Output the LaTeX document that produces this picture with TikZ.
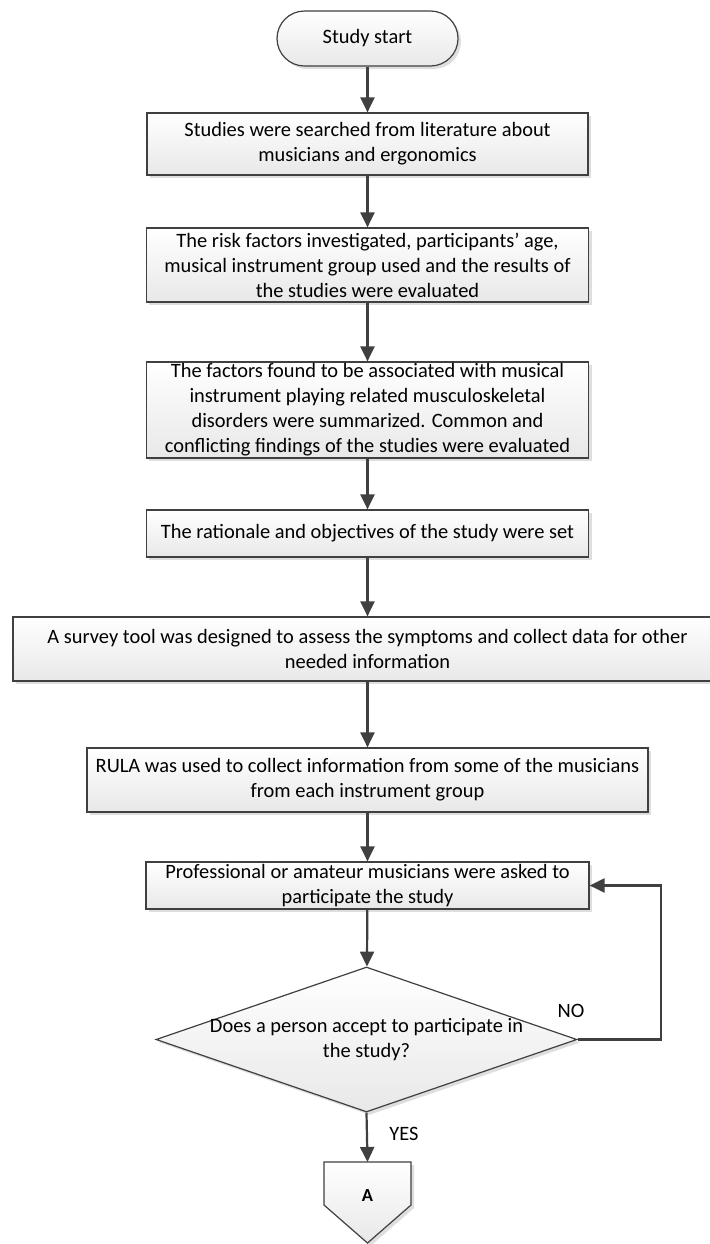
\documentclass[tikz,border=0pt]{standalone}
\usepackage{fontspec}
\setmainfont{Carlito}
\usepackage{tikz}
\usetikzlibrary{shapes.geometric,shadows,arrows.meta,calc}
\definecolor{linegray}{HTML}{404040}
\definecolor{boxgray}{HTML}{E8E8E8}

\begin{document}
\begin{tikzpicture}[x=1bp, y=-1bp, every node/.style={font=\fontsize{20.5}{25}\selectfont, align=center, inner sep=0pt}]
	\tikzset{fillshade/.style={draw=linegray, line width=1.2bp, top color=white, bottom color=boxgray, drop shadow={shadow xshift=3bp, shadow yshift=-3bp, fill=black!25, opacity=0.5}}}
	\tikzset{procbox/.style={rectangle, fillshade}}
	\tikzset{arr/.style={draw=linegray, line width=2.2bp, -{Triangle[length=15bp,width=14bp]}}}
	\useasboundingbox (0,0) rectangle (710,1244);
	\fill[white] (0,0) rectangle (710,1244);
	\clip (0,0) rectangle (710,1244);
	\node[procbox, rounded corners=27.5bp, minimum width=181bp, minimum height=55bp] (start) at (367.5,38.5) {Study start};
	\node[procbox, minimum width=441bp, minimum height=62bp] (s1) at (367.5,144) {Studies were searched from literature about\\musicians and ergonomics};
	\node[procbox, minimum width=442bp, minimum height=74bp] (s2) at (367.5,265) {The risk factors investigated, participants’ age,\\musical instrument group used and the results of\\the studies were evaluated};
	\node[procbox, minimum width=442bp, minimum height=96bp] (s3) at (367.5,410) {The factors found to be associated with musical\\instrument playing related musculoskeletal\\disorders were summarized. Common and\\conflicting findings of the studies were evaluated};
	\node[procbox, minimum width=442bp, minimum height=47bp] (s4) at (367.5,533.5) {The rationale and objectives of the study were set};
	\node[procbox, minimum width=709bp, minimum height=64bp] (s5) at (367.5,649) {A survey tool was designed to assess the symptoms and collect data for other\\needed information};
	\node[procbox, minimum width=561bp, minimum height=64bp] (s6) at (367.5,780) {RULA was used to collect information from some of the musicians\\from each instrument group};
	\node[procbox, minimum width=443bp, minimum height=47bp] (s7) at (367.5,885.5) {Professional or amateur musicians were asked to\\participate the study};
	\node[diamond, fillshade, minimum width=421bp, minimum height=145bp, label={[align=center]center:Does a person accept to participate in\\the study?}] (dec) at (366.5,1039.5) {};
	\coordinate (offc) at (367.5,1196);
	\coordinate (offtop) at ($(offc)+(0,-34)$);
	\path[fillshade] ($(offc)+(-43.5,-34)$) -- ($(offc)+(43.5,-34)$) -- ($(offc)+(43.5,9)$) -- ($(offc)+(0,47)$) -- ($(offc)+(-43.5,9)$) -- cycle;
	\node[font=\bfseries\fontsize{18.5}{20}\selectfont] (offA) at (offc) {A};
	\coordinate (loopc) at (661,885.5);
	\node (no) at (571,1011) {NO};
	\node (yes) at (404,1134) {YES};
	\draw[arr] (start) -- (s1);
	\draw[arr] (s1) -- (s2);
	\draw[arr] (s2) -- (s3);
	\draw[arr] (s3) -- (s4);
	\draw[arr] (s4) -- (s5);
	\draw[arr] (s5) -- (s6);
	\draw[arr] (s6) -- (s7);
	\draw[arr] (s7) -- (dec);
	\draw[arr] (dec.east) -| (loopc) -- (s7.east);
	\draw[arr] (dec.south) -- (offtop);
\end{tikzpicture}
\end{document}
